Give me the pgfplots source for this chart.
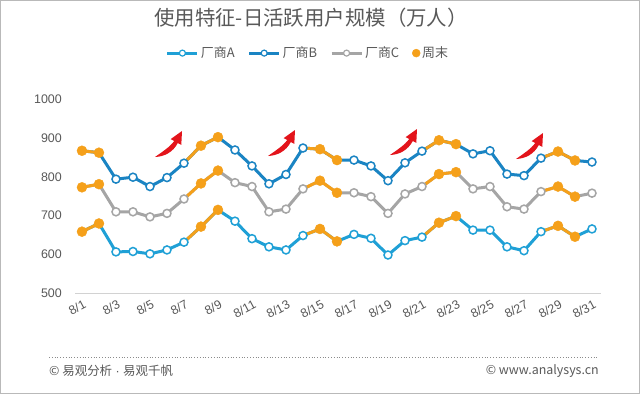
\documentclass[border=0pt]{standalone}
\usepackage{fontspec}
\setmainfont{Noto Sans CJK SC}
\newfontfamily\arial{Liberation Sans}
\usepackage{pgfplots}
\usepackage{pgfplotstable}
\pgfplotsset{compat=1.18}
\definecolor{cA}{HTML}{1FA0D6}
\definecolor{cB}{HTML}{1A84C3}
\definecolor{cC}{HTML}{A5A5A5}
\definecolor{cO}{HTML}{F5A01A}
\definecolor{txt}{HTML}{595959}
\definecolor{arr}{HTML}{E3141B}

% w: 2 = weekend, 1 = day before weekend (orange segment start), 0 = weekday
\pgfplotstableread{
d  A   B   C   w
1  659 867 773 2
2  680 862 781 2
3  607 794 710 0
4  608 799 710 0
5  602 775 697 0
6  612 798 706 0
7  632 835 743 1
8  672 880 783 2
9  715 902 816 2
10 686 869 785 0
11 641 828 775 0
12 620 782 710 0
13 612 806 717 0
14 649 874 769 1
15 666 871 790 2
16 634 843 759 2
17 652 843 759 0
18 642 828 749 0
19 599 790 706 0
20 636 836 756 0
21 645 866 775 1
22 682 894 807 2
23 699 884 812 2
24 663 859 769 0
25 663 867 775 0
26 620 807 723 0
27 610 803 717 0
28 659 848 762 1
29 674 865 775 2
30 646 842 749 2
31 666 838 758 0
}\data

\pgfplotsset{
  sline/.style={#1, line width=3bp, line join=round, forget plot},
  oseg/.style={cO, line width=3bp, line join=round, forget plot, unbounded coords=jump, restrict expr to domain={\thisrow{w}}{1:2}},
  omark/.style={#1, only marks, mark=*, mark size=4bp, mark options={fill=white, draw=#1, line width=1.5bp, solid}, forget plot, restrict expr to domain={\thisrow{w}}{0:1}},
  wmark/.style={cO, only marks, mark=*, mark size=5bp, mark options={fill=cO, draw=cO}, forget plot, restrict expr to domain={\thisrow{w}}{2:2}},
}

\newcommand{\redarrow}[2]{%
  \fill[arr, shift={(#1,#2)}] (-27,-26) .. controls (-20,-21) and (-12,-16) .. (-7.8,-10)
    -- (-11.3,-8.1) -- (0,0) -- (-0.7,-13.9) -- (-4.2,-12)
    .. controls (-9,-21) and (-17,-25.5) .. (-27,-26) -- cycle;}

\begin{document}
\begin{tikzpicture}[x=1bp,y=1bp]
\path[use as bounding box] (0,0) rectangle (640,-394);
\fill[white] (0,0) rectangle (640,-394);
\draw[gray!55, line width=1bp] (0.5,-0.5) rectangle (639.5,-393.5);
\node[text=txt, font=\fontsize{20.5}{24}\selectfont] at (311,-18) {使用特征-日活跃用户规模（万人）};

\begin{axis}[
  at={(75bp,-293.5bp)}, anchor=south west,
  scale only axis, width=526bp, height=194.5bp,
  xmin=0.59, xmax=31.53, ymin=500, ymax=1000,
  clip=false,
  axis x line*=bottom, axis y line*=left,
  x axis line style={draw=gray!35, line width=1.3bp, -},
  y axis line style={draw=none, -},
  major tick length=0pt,
  xtick={1,3,...,31},
  xticklabels={8/1,8/3,8/5,8/7,8/9,8/11,8/13,8/15,8/17,8/19,8/21,8/23,8/25,8/27,8/29,8/31},
  ytick={500,600,...,1000},
  /pgf/number format/assume math mode=true,
  /pgf/number format/1000 sep={},
  yticklabel style={font=\arial\fontsize{12.5}{14}\selectfont, text=txt, inner sep=0pt, anchor=east, xshift=-13bp},
  xticklabel style={font=\arial\fontsize{12.5}{14}\selectfont, text=txt, inner sep=0pt, xshift=3bp, yshift=-10bp, rotate=28, anchor=east},
  legend style={at={(0.443,1.236)}, anchor=center, legend columns=4, draw=none, fill=none,
    font=\fontsize{13}{15}\selectfont, text=txt, inner sep=0pt,
    /tikz/every even column/.append style={column sep=11bp}},
  legend cell align=left,
  legend image code/.code={\draw[mark repeat=2,mark phase=2,#1] plot coordinates {(0bp,0bp) (15bp,0bp) (30bp,0bp)};},
]
\addlegendimage{cA, line width=3bp, mark=*, mark size=3bp, mark options={fill=white, draw=cA, line width=1.2bp}}
\addlegendentry{厂商A}
\addlegendimage{cB, line width=3bp, mark=*, mark size=3bp, mark options={fill=white, draw=cB, line width=1.2bp}}
\addlegendentry{厂商B}
\addlegendimage{cC, line width=3bp, mark=*, mark size=3bp, mark options={fill=white, draw=cC, line width=1.2bp}}
\addlegendentry{厂商C}
\addlegendimage{cO, only marks, mark=*, mark size=4bp, mark options={fill=cO, draw=cO}}
\addlegendentry{周末}

% Vendor B
\addplot[sline=cB] table[x=d,y=B]{\data};
\addplot[oseg] table[x=d,y=B]{\data};
\addplot[omark=cB] table[x=d,y=B]{\data};
\addplot[wmark] table[x=d,y=B]{\data};
% Vendor C
\addplot[sline=cC] table[x=d,y=C]{\data};
\addplot[oseg] table[x=d,y=C]{\data};
\addplot[omark=cC] table[x=d,y=C]{\data};
\addplot[wmark] table[x=d,y=C]{\data};
% Vendor A
\addplot[sline=cA] table[x=d,y=A]{\data};
\addplot[oseg] table[x=d,y=A]{\data};
\addplot[omark=cA] table[x=d,y=A]{\data};
\addplot[wmark] table[x=d,y=A]{\data};
\end{axis}

\redarrow{182}{-131}
\redarrow{295}{-130}
\redarrow{417}{-129}
\redarrow{543}{-133}

\draw[txt!70, line width=0.8bp, dotted] (49,-357.7) -- (599,-357.7);
\node[anchor=west, text=txt, font=\fontsize{12.5}{14}\selectfont, inner sep=0pt] at (49,-371) {© 易观分析{\arial\ ·\ }易观千帆};
\node[anchor=east, text=txt, font=\fontsize{12.5}{14}\selectfont, inner sep=0pt] at (599,-371) {© www.analysys.cn};
\end{tikzpicture}
\end{document}
